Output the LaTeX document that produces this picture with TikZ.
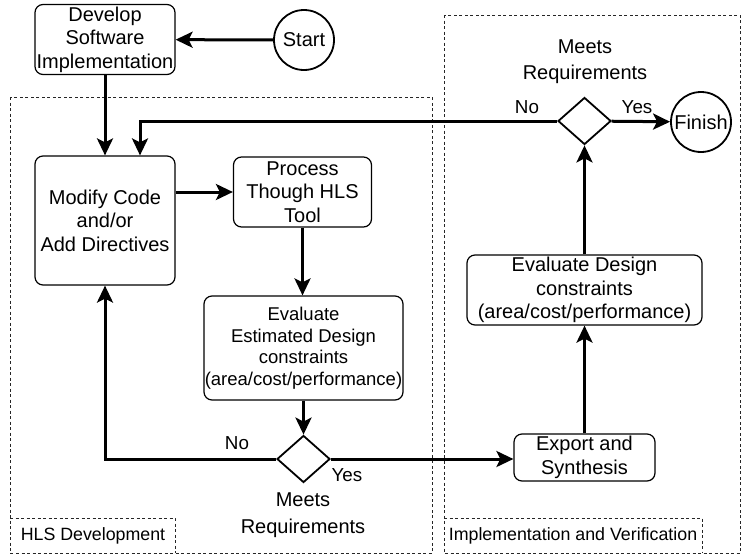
\documentclass[tikz,border=0pt]{standalone}
\usepackage{fontspec}
\setmainfont{Liberation Sans}
\usetikzlibrary{shapes.geometric,arrows.meta}
\begin{document}
\begin{tikzpicture}[x=1pt,y=-1pt,
  box/.style={draw, line width=1.2pt, rounded corners=8pt, fill=white, align=center,
    inner sep=0pt, font=\fontsize{20}{23.5}\selectfont},
  smallbox/.style={box, font=\fontsize{18.5}{21.5}\selectfont},
  circ/.style={draw, circle, line width=1.8pt, fill=white, inner sep=0pt,
    font=\fontsize{20}{23.5}\selectfont},
  decision/.style={draw, diamond, line width=1.8pt, fill=white, inner sep=0pt,
    minimum width=53pt, minimum height=47pt},
  arr/.style={line width=3pt, -{Stealth[length=17pt,width=16pt,inset=4pt]}},
  dashbox/.style={line width=0.9pt, dash pattern=on 3pt off 2.5pt, draw=black!85},
  txt/.style={inner sep=0pt, align=center, font=\fontsize{20}{26.5}\selectfont},
  yn/.style={inner sep=0pt, font=\fontsize{18.8}{22}\selectfont},
  grp/.style={inner sep=0pt, font=\fontsize{17.8}{21}\selectfont}]
\useasboundingbox (0,0) rectangle (741,554);

% group frames
\draw[dashbox] (10,97) rectangle (432,553);
\draw[dashbox] (10,518) -- (175,518) -- (175,553);
\node[grp] (hlsgrp) at (93,536) {HLS Development};
\draw[dashbox] (444,15) rectangle (740,553);
\draw[dashbox] (444,518) -- (702,518) -- (702,553);
\node[grp] (implgrp) at (573,536) {Implementation and Verification};

% process steps
\node[box, minimum width=140pt, minimum height=70pt] (dev) at (105,39.5)
  {Develop\\Software\\Implementation};
\node[circ, minimum size=60pt] (start) at (304,40) {Start};
\node[box, minimum width=140pt, minimum height=129pt] (modify) at (105,220.5)
  {Modify Code\\and/or\\Add Directives};
\node[box, minimum width=138pt, minimum height=70pt] (process) at (302.5,192)
  {Process\\Though HLS\\Tool};
\node[smallbox, minimum width=199pt, minimum height=104pt] (evalL) at (303.5,348)
  {Evaluate\\Estimated Design\\constraints\\(area/cost/performance)};
\node[decision] (dL) at (303.5,459) {};
\node[box, minimum width=141pt, minimum height=47pt] (export) at (584.5,457.5)
  {Export and\\Synthesis};
\node[box, minimum width=235pt, minimum height=70pt] (evalR) at (584.5,290)
  {Evaluate Design\\constraints\\(area/cost/performance)};
\node[decision] (dT) at (584.5,121) {};
\node[circ, minimum size=60pt] (finish) at (701,122) {Finish};

% decision captions
\node[txt] (capL) at (303,515) {Meets\\Requirements};
\node[txt] (capT) at (585,61.5) {Meets\\Requirements};
\node[yn] (noL) at (237,443) {No};
\node[yn] (yesL) at (347,475) {Yes};
\node[yn] (noT) at (527,107) {No};
\node[yn] (yesT) at (637,107) {Yes};

% connectors
\draw[arr] (start) -- (dev);
\draw[arr] (dev) -- (modify);
\draw[arr] (process.west -| modify.east) -- (process.west);
\draw[arr] (process.south) -- (process.south |- evalL.north);
\draw[arr] (evalL) -- (dL);
\draw[arr] (dL.west) -| (modify.south);
\draw[arr] (dL.east) -- (dL.east -| export.west);
\draw[arr] (export) -- (evalR);
\draw[arr] (evalR) -- (dT);
\draw[arr] (dT) -- (finish);
\draw[arr] (dT.west) -| ([xshift=35pt]modify.north);
\end{tikzpicture}
\end{document}
